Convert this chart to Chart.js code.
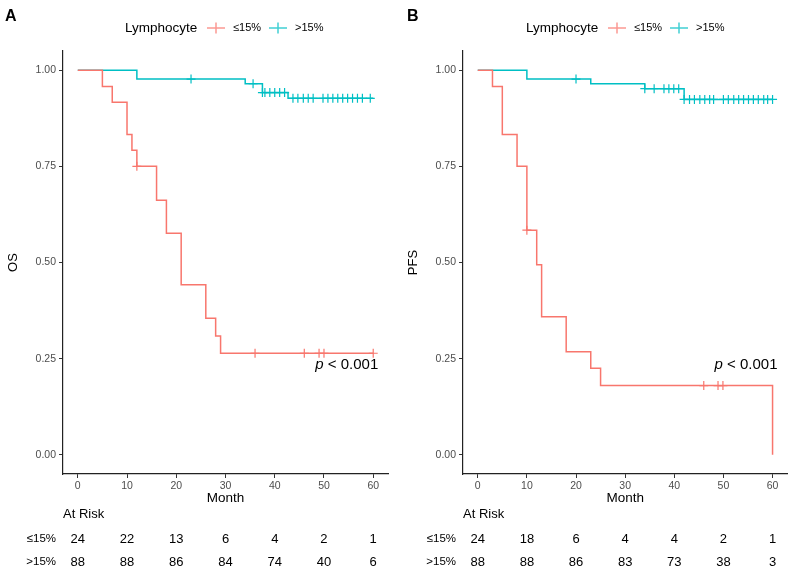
<!DOCTYPE html>
<html>
<head>
<meta charset="utf-8">
<script src="https://cdn.jsdelivr.net/npm/chart.js@4.4.1/dist/chart.umd.min.js"></script>
<style>
  body { margin: 0; background: #fff; }
  #wrap { position: relative; width: 793px; height: 574px; }
  canvas { position: absolute; top: 0; }
</style>
</head>
<body>
<div id="wrap">
  <canvas id="chartA" width="400" height="574" style="left:0"></canvas>
  <canvas id="chartB" width="393" height="574" style="left:400px"></canvas>
</div>
<script>
// month ticks and risk table times
var monthTicks = [0, 10, 20, 30, 40, 50, 60]
var survTicks = [0, 0.25, 0.5, 0.75, 1]
var groupLabels = ['≤15%', '>15%']

// Panel A (OS): step points [month, survival]
var osLowTime = [0, 5, 7, 10, 11, 12, 16, 18, 21, 26, 28, 29, 60]
var osLowSurv = [1, 0.958, 0.917, 0.833, 0.792, 0.75, 0.662, 0.576, 0.442, 0.355, 0.309, 0.264, 0.264]
var osLowCens = [12, 36, 46, 49, 50, 60]
var osHighTime = [0, 12, 34, 37.5, 42.7, 60]
var osHighSurv = [1, 0.977, 0.965, 0.942, 0.927, 0.927]
var osHighCens = [23, 35.6, 37.5, 38, 39, 40, 41, 42, 43.7, 44.7, 45.8, 46.8, 47.8, 49.8, 50.8, 51.8, 52.8, 53.8, 54.8, 55.8, 56.8, 57.8, 59.4]
var osRiskLow = [24, 22, 13, 6, 4, 2, 1]
var osRiskHigh = [88, 88, 86, 84, 74, 40, 6]

// Panel B (PFS)
var pfsLowTime = [0, 3, 5, 8, 10, 12, 13, 18, 23, 25, 60]
var pfsLowSurv = [1, 0.958, 0.833, 0.75, 0.584, 0.494, 0.359, 0.268, 0.225, 0.18, 0]
var pfsLowCens = [10, 46, 48.9, 49.9]
var pfsHighTime = [0, 10, 23, 34, 42, 60]
var pfsHighSurv = [1, 0.977, 0.965, 0.952, 0.924, 0.924]
var pfsHighCens = [20, 34, 35.9, 37.9, 38.9, 39.9, 40.9, 42, 43.1, 44.1, 45.2, 46.2, 47.2, 48, 50, 51, 52.1, 53.1, 54.1, 55.1, 56.1, 57.1, 58.2, 59, 60]
var pfsRiskLow = [24, 18, 6, 4, 4, 2, 1]
var pfsRiskHigh = [88, 88, 86, 83, 73, 38, 3]

var red = '#F8766D'
var blue = '#00BFC4'
var fontFam = '"Liberation Sans", Arial, sans-serif'
Chart.defaults.font.family = fontFam

function toPoints(times, surv) {
    return times.map((t, i) => ({ x: t, y: surv[i] }))
}

// survival value of the curve at a censor time
function censorPoints(times, surv, cens) {
    return cens.map(c => {
        let v = surv[0]
        for (let i = 0; i < times.length; i++) {
            if (times[i] <= c) v = surv[i]
        }
        return { x: c, y: v }
    })
}

function drawKey(ctx, x, y, color) {
    ctx.strokeStyle = color
    ctx.globalAlpha = 0.75
    ctx.lineWidth = 1.5
    ctx.beginPath()
    ctx.moveTo(x, y); ctx.lineTo(x + 18, y)
    ctx.moveTo(x + 9, y - 5.5); ctx.lineTo(x + 9, y + 5.5)
    ctx.stroke()
    ctx.globalAlpha = 1
}

function makePanel(id, opt) {
    const textPlugin = {
        id: 'kmText',
        afterDraw(chart) {
            const ctx = chart.ctx
            const xs = chart.scales.x
            const ys = chart.scales.y
            ctx.save()
            // panel letter
            ctx.fillStyle = '#000'
            ctx.font = 'bold 16px ' + fontFam
            ctx.textBaseline = 'middle'
            ctx.textAlign = 'left'
            ctx.fillText(opt.letter, opt.letterX, 17)
            // legend
            ctx.font = '13.5px ' + fontFam
            ctx.fillText('Lymphocyte', opt.legendX, 28)
            drawKey(ctx, opt.legendX + 82, 28, red)
            ctx.fillStyle = '#000'
            ctx.font = '11px ' + fontFam
            ctx.fillText(groupLabels[0], opt.legendX + 108, 28)
            drawKey(ctx, opt.legendX + 144, 28, blue)
            ctx.fillStyle = '#000'
            ctx.font = '11px ' + fontFam
            ctx.fillText(groupLabels[1], opt.legendX + 170, 28)
            // p value
            const px = xs.getPixelForValue(60) + 5
            const py = ys.getPixelForValue(0.234)
            ctx.textAlign = 'right'
            ctx.font = '15px ' + fontFam
            const rest = ' < 0.001'
            ctx.fillText(rest, px, py)
            const w = ctx.measureText(rest).width
            ctx.font = 'italic 15px ' + fontFam
            ctx.fillText('p', px - w, py)
            // risk table
            ctx.textAlign = 'left'
            ctx.font = '13px ' + fontFam
            ctx.fillText('At Risk', chart.chartArea.left, 514)
            const rows = [opt.riskLow, opt.riskHigh]
            const rowY = [539, 562]
            rows.forEach((row, r) => {
                ctx.textAlign = 'right'
                ctx.font = '11.5px ' + fontFam
                ctx.fillText(groupLabels[r], 56, rowY[r])
                ctx.textAlign = 'center'
                ctx.font = '13px ' + fontFam
                row.forEach((n, i) => {
                    ctx.fillText(String(n), xs.getPixelForValue(monthTicks[i]), rowY[r])
                })
            })
            ctx.restore()
        }
    }

    const lineStyle = { borderWidth: 1.5, pointRadius: 0, stepped: true, fill: false }
    const censStyle = { showLine: false, pointStyle: 'cross', pointRadius: 4.5, borderWidth: 1.2 }

    return new Chart(document.getElementById(id), {
        type: 'line',
        data: {
            datasets: [
                Object.assign({ data: toPoints(opt.lowTime, opt.lowSurv), borderColor: red }, lineStyle),
                Object.assign({ data: toPoints(opt.highTime, opt.highSurv), borderColor: blue }, lineStyle),
                Object.assign({ data: censorPoints(opt.lowTime, opt.lowSurv, opt.lowCens), borderColor: red }, censStyle),
                Object.assign({ data: censorPoints(opt.highTime, opt.highSurv, opt.highCens), borderColor: blue }, censStyle)
            ]
        },
        options: {
            responsive: false,
            animation: false,
            devicePixelRatio: 1,
            layout: { padding: { top: 51, right: opt.padRight, bottom: 66, left: 0 } },
            plugins: { legend: { display: false }, tooltip: { enabled: false } },
            scales: {
                x: {
                    type: 'linear', min: -3, max: 63,
                    afterBuildTicks: s => { s.ticks = monthTicks.map(v => ({ value: v })) },
                    afterFit: s => { s.height = 34 },
                    grid: { drawOnChartArea: false, tickLength: 4, color: '#333' },
                    border: { color: '#222', width: 1.2 },
                    ticks: { color: '#4D4D4D', font: { size: 10.5 }, padding: 2, maxRotation: 0 },
                    title: { display: true, text: 'Month', color: '#000', font: { size: 13.5 }, padding: { top: 0, bottom: 2 } }
                },
                y: {
                    type: 'linear', min: -0.05, max: 1.05,
                    afterBuildTicks: s => { s.ticks = survTicks.map(v => ({ value: v })) },
                    afterFit: s => { s.width = 63 },
                    grid: { drawOnChartArea: false, tickLength: 4, color: '#333' },
                    border: { color: '#222', width: 1.2 },
                    ticks: { color: '#4D4D4D', font: { size: 10.5 }, padding: 3, callback: v => v.toFixed(2) },
                    title: { display: true, text: opt.yTitle, color: '#000', font: { size: 13 }, padding: { top: 6, bottom: 0 } }
                }
            }
        },
        plugins: [textPlugin]
    })
}

makePanel('chartA', {
    letter: 'A', letterX: 5, legendX: 125, padRight: 12, yTitle: 'OS',
    lowTime: osLowTime, lowSurv: osLowSurv, lowCens: osLowCens,
    highTime: osHighTime, highSurv: osHighSurv, highCens: osHighCens,
    riskLow: osRiskLow, riskHigh: osRiskHigh
})
makePanel('chartB', {
    letter: 'B', letterX: 7, legendX: 126, padRight: 4, yTitle: 'PFS',
    lowTime: pfsLowTime, lowSurv: pfsLowSurv, lowCens: pfsLowCens,
    highTime: pfsHighTime, highSurv: pfsHighSurv, highCens: pfsHighCens,
    riskLow: pfsRiskLow, riskHigh: pfsRiskHigh
})
</script>
</body>
</html>
